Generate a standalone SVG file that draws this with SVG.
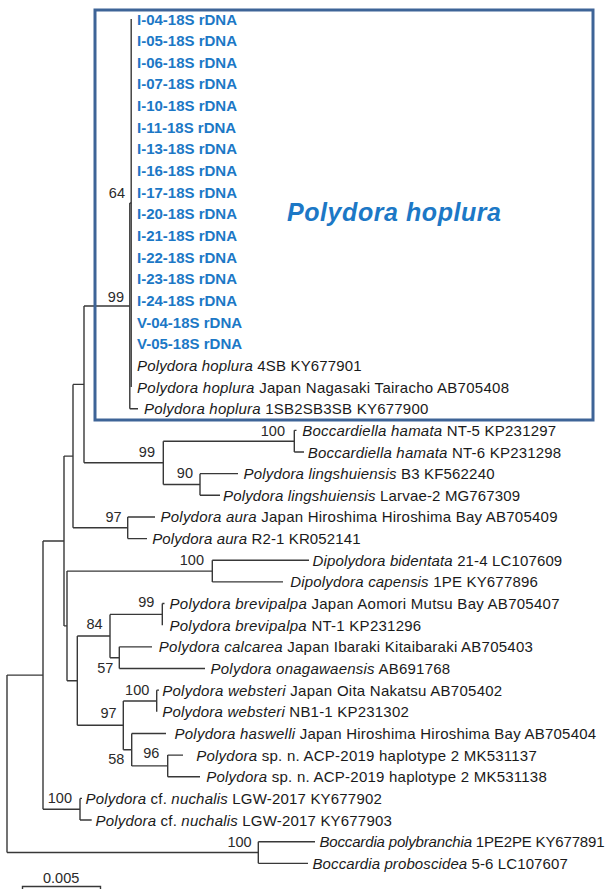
<svg xmlns="http://www.w3.org/2000/svg" width="610" height="889" viewBox="0 0 610 889">
<style>
text{font-family:"Liberation Sans",Arial,sans-serif}
.lf{font-size:15px;fill:#1a1a1a}
.it{font-style:italic}
.bl{font-size:15px;font-weight:bold;fill:#1C78C6}
.bs{font-size:14.5px;fill:#2a2a2a;text-anchor:end}
.br{fill:none;stroke:#383838;stroke-width:1.4}
</style>
<rect width="610" height="889" fill="#fff"/>
<g id="connectors" class="br">
<path d="M7 675.1V852.5M7 675.1H43M7 852.5H258.3"/>
<path d="M258.3 841.7V863.35M258.3 841.7H315M258.3 863.35H308"/>
<path d="M43 541V809.2M43 541H64M43 809.2H80"/>
<path d="M80 798.4V820.05M80 798.4H82M80 820.05H91.7"/>
<path d="M64 456.1V625.9M64 456.1H73M64 625.9H67"/>
<path d="M73 384.4V527.8M73 384.4H84M73 527.8H127.7"/>
<path d="M84 306V462.8M84 306H129.8M84 462.8H163.3"/>
<path d="M129.8 203V408.7M129.8 203H131.2M129.8 408.7H138"/>
<path d="M131.2 19V387.05"/>
<path d="M163.3 441.2V484.5M163.3 441.2H294.3M163.3 484.5H200"/>
<path d="M294.3 430.35V452M294.3 430.35H296.5M294.3 452H304"/>
<path d="M200 473.65V495.3M200 473.65H238M200 495.3H220"/>
<path d="M127.7 516.95V538.6M127.7 516.95H155M127.7 538.6H147"/>
<path d="M67 571.1V680.7M67 571.1H212.3M67 680.7H77.3"/>
<path d="M212.3 560.25V581.9M212.3 560.25H309M212.3 581.9H283"/>
<path d="M77.3 636V725.3M77.3 636H110M77.3 725.3H123.3"/>
<path d="M110 614.4V657.7M110 614.4H162.3M110 657.7H119.3"/>
<path d="M162.3 603.55V625.2M162.3 603.55H164.5"/>
<path d="M119.3 646.85V668.5M119.3 646.85H152M119.3 668.5H205"/>
<path d="M123.3 701V749.7M123.3 701H156.7M123.3 749.7H131.7"/>
<path d="M156.7 690.15V711.8M156.7 690.15H159"/>
<path d="M131.7 733.45V765.9M131.7 733.45H166M131.7 765.9H167.7"/>
<path d="M167.7 755.1V776.75M167.7 755.1H183M167.7 776.75H200"/>
<path d="M22.5 889V886.5H100.5V889"/>
</g>
<g id="box"><rect x="95" y="10" width="498" height="410" fill="none" stroke="#3E6497" stroke-width="3"/></g>
<g id="clade-label"><text x="287" y="221" font-size="25" font-weight="bold" font-style="italic" fill="#1C78C6" textLength="214" lengthAdjust="spacing">Polydora hoplura</text></g>
<g id="leaves-blue">
<text id="n0" class="bl" x="137" y="24.5">I-04-18S rDNA</text>
<text id="n1" class="bl" x="137" y="46.15">I-05-18S rDNA</text>
<text id="n2" class="bl" x="137" y="67.8">I-06-18S rDNA</text>
<text id="n3" class="bl" x="137" y="89.45">I-07-18S rDNA</text>
<text id="n4" class="bl" x="137" y="111.1">I-10-18S rDNA</text>
<text id="n5" class="bl" x="137" y="132.75">I-11-18S rDNA</text>
<text id="n6" class="bl" x="137" y="154.4">I-13-18S rDNA</text>
<text id="n7" class="bl" x="137" y="176.05">I-16-18S rDNA</text>
<text id="n8" class="bl" x="137" y="197.7">I-17-18S rDNA</text>
<text id="n9" class="bl" x="137" y="219.35">I-20-18S rDNA</text>
<text id="n10" class="bl" x="137" y="241">I-21-18S rDNA</text>
<text id="n11" class="bl" x="137" y="262.65">I-22-18S rDNA</text>
<text id="n12" class="bl" x="137" y="284.3">I-23-18S rDNA</text>
<text id="n13" class="bl" x="137" y="305.95">I-24-18S rDNA</text>
<text id="n14" class="bl" x="137" y="327.6">V-04-18S rDNA</text>
<text id="n15" class="bl" x="137" y="349.25">V-05-18S rDNA</text>
</g>
<g id="leaves">
<text id="n16" class="lf" x="137" y="370.9" textLength="224.7" lengthAdjust="spacing"><tspan class="it">Polydora hoplura</tspan> 4SB KY677901</text>
<text id="n17" class="lf" x="137" y="392.55" textLength="372" lengthAdjust="spacing"><tspan class="it">Polydora hoplura</tspan> Japan Nagasaki Tairacho AB705408</text>
<text id="n18" class="lf" x="144" y="414.2" textLength="284.3" lengthAdjust="spacing"><tspan class="it">Polydora hoplura</tspan> 1SB2SB3SB KY677900</text>
<text id="n19" class="lf" x="302.2" y="435.85" textLength="254" lengthAdjust="spacing"><tspan class="it">Boccardiella hamata</tspan> NT-5 KP231297</text>
<text id="n20" class="lf" x="307.8" y="457.5" textLength="253.4" lengthAdjust="spacing"><tspan class="it">Boccardiella hamata</tspan> NT-6 KP231298</text>
<text id="n21" class="lf" x="243.5" y="479.15" textLength="251" lengthAdjust="spacing"><tspan class="it">Polydora lingshuiensis</tspan> B3 KF562240</text>
<text id="n22" class="lf" x="223" y="500.8" textLength="297.2" lengthAdjust="spacing"><tspan class="it">Polydora lingshuiensis</tspan> Larvae-2 MG767309</text>
<text id="n23" class="lf" x="160.5" y="522.45" textLength="397" lengthAdjust="spacing"><tspan class="it">Polydora aura</tspan> Japan Hiroshima Hiroshima Bay AB705409</text>
<text id="n24" class="lf" x="152.2" y="544.1" textLength="208.3" lengthAdjust="spacing"><tspan class="it">Polydora aura</tspan> R2-1 KR052141</text>
<text id="n25" class="lf" x="312.5" y="565.75" textLength="249.7" lengthAdjust="spacing"><tspan class="it">Dipolydora bidentata</tspan> 21-4 LC107609</text>
<text id="n26" class="lf" x="290.2" y="587.4" textLength="247.6" lengthAdjust="spacing"><tspan class="it">Dipolydora capensis</tspan> 1PE KY677896</text>
<text id="n27" class="lf" x="169.5" y="609.05" textLength="390" lengthAdjust="spacing"><tspan class="it">Polydora brevipalpa</tspan> Japan Aomori Mutsu Bay AB705407</text>
<text id="n28" class="lf" x="169.5" y="630.7" textLength="251.7" lengthAdjust="spacing"><tspan class="it">Polydora brevipalpa</tspan> NT-1 KP231296</text>
<text id="n29" class="lf" x="158.8" y="652.35" textLength="374" lengthAdjust="spacing"><tspan class="it">Polydora calcarea</tspan> Japan Ibaraki Kitaibaraki AB705403</text>
<text id="n30" class="lf" x="210.5" y="674" textLength="239.7" lengthAdjust="spacing"><tspan class="it">Polydora onagawaensis</tspan> AB691768</text>
<text id="n31" class="lf" x="162.2" y="695.65" textLength="340" lengthAdjust="spacing"><tspan class="it">Polydora websteri</tspan> Japan Oita Nakatsu AB705402</text>
<text id="n32" class="lf" x="162.2" y="717.3" textLength="246.6" lengthAdjust="spacing"><tspan class="it">Polydora websteri</tspan> NB1-1 KP231302</text>
<text id="n33" class="lf" x="174.5" y="738.95" textLength="421.7" lengthAdjust="spacing"><tspan class="it">Polydora haswelli</tspan> Japan Hiroshima Hiroshima Bay AB705404</text>
<text id="n34" class="lf" x="196.2" y="760.6" textLength="340.6" lengthAdjust="spacing"><tspan class="it">Polydora</tspan> sp. n. ACP-2019 haplotype 2 MK531137</text>
<text id="n35" class="lf" x="206.2" y="782.25" textLength="340.6" lengthAdjust="spacing"><tspan class="it">Polydora</tspan> sp. n. ACP-2019 haplotype 2 MK531138</text>
<text id="n36" class="lf" x="85.5" y="803.9" textLength="296.3" lengthAdjust="spacing"><tspan class="it">Polydora</tspan> cf. <tspan class="it">nuchalis</tspan> LGW-2017 KY677902</text>
<text id="n37" class="lf" x="95.5" y="825.55" textLength="296.3" lengthAdjust="spacing"><tspan class="it">Polydora</tspan> cf. <tspan class="it">nuchalis</tspan> LGW-2017 KY677903</text>
<text id="n38" class="lf" x="319.5" y="847.2" textLength="285" lengthAdjust="spacing"><tspan class="it">Boccardia polybranchia</tspan> 1PE2PE KY677891</text>
<text id="n39" class="lf" x="312.5" y="868.85" textLength="255.3" lengthAdjust="spacing"><tspan class="it">Boccardia proboscidea</tspan> 5-6 LC107607</text>
</g>
<g id="bootstrap">
<text class="bs" x="125" y="198">64</text>
<text class="bs" x="124" y="302">99</text>
<text class="bs" x="285" y="436">100</text>
<text class="bs" x="155" y="457">99</text>
<text class="bs" x="193" y="478">90</text>
<text class="bs" x="121.7" y="521.7">97</text>
<text class="bs" x="204" y="565">100</text>
<text class="bs" x="154.3" y="606.7">99</text>
<text class="bs" x="102.7" y="629.3">84</text>
<text class="bs" x="113.3" y="673.3">57</text>
<text class="bs" x="149.3" y="695">100</text>
<text class="bs" x="116.7" y="718.3">97</text>
<text class="bs" x="124.3" y="764">58</text>
<text class="bs" x="159.3" y="758.3">96</text>
<text class="bs" x="72" y="803.3">100</text>
<text class="bs" x="251.7" y="846.7">100</text>
</g>
<g id="scale"><text x="43" y="883" font-size="14.5" fill="#2a2a2a">0.005</text></g>
</svg>
